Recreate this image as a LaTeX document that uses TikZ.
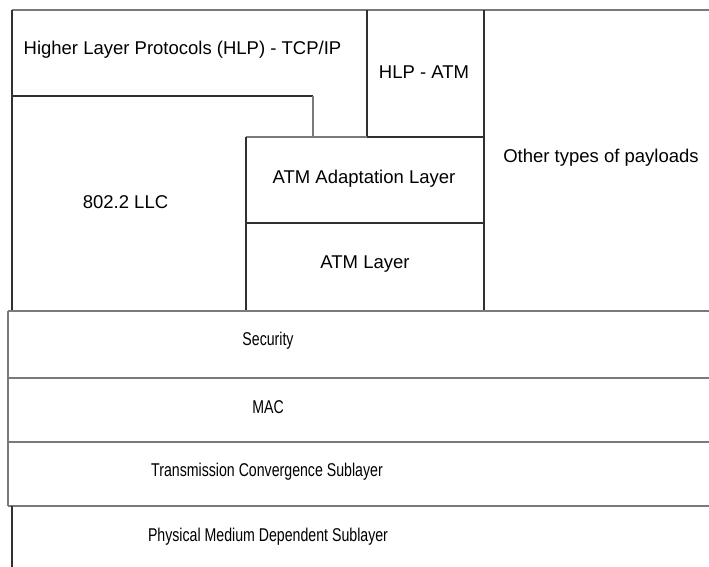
\documentclass[tikz,border=0pt]{standalone}
\usepackage{fontspec}
\setmainfont{Liberation Sans}
\usepackage{graphicx}
\definecolor{lndark}{HTML}{303030}
\definecolor{lngray}{HTML}{7A7A7A}
\begin{document}
\begin{tikzpicture}[x=1pt,y=-1pt,
  dk/.style={draw=lndark,line width=1.1pt},
  gr/.style={draw=lngray,line width=1.6pt},
  lbl/.style={inner sep=0pt,font=\fontsize{18.5}{22}\selectfont},
  nlbl/.style={inner sep=0pt,font=\fontsize{18.5}{22}\selectfont}]
\useasboundingbox (0,0) rectangle (709,566);
\begin{scope}
\clip (0,0) rectangle (709,566);
% upper part
\draw[gr] (12,10) -- (720,10);
\draw[dk] (12,10) -- (12,311);
\draw[dk] (12,96) -- (313,96);
\draw[gr] (313,96) -- (313,137);
\draw[dk] (367,10) -- (367,137);
\draw[gr] (246,137) -- (367,137);
\draw[dk] (367,137) -- (484,137);
\draw[dk] (484,10) -- (484,311);
\draw[dk] (246,137) -- (246,311);
\draw[dk] (246,223) -- (484,223);
% lower part
\draw[gr] (8,311) -- (8,506);
\draw[gr] (8,311) -- (720,311);
\draw[gr] (8,378) -- (720,378);
\draw[gr] (8,442) -- (720,442);
\draw[gr] (8,506) -- (720,506);
\draw[dk] (12,506) -- (12,570);
\end{scope}
% labels
\node[lbl] (hlptcp) at (182.5,50) {Higher Layer Protocols (HLP) - TCP/IP};
\node[lbl] (hlpatm) at (424,72) {HLP - ATM};
\node[lbl] (aal) at (364,179) {ATM Adaptation Layer};
\node[lbl] (atm) at (365,264) {ATM Layer};
\node[lbl] (other) at (601,157.5) {Other types of payloads};
\node[lbl] (llc) at (125.5,202.5) {802.2 LLC};
\node[nlbl] (sec) at (268,340.5) {\scalebox{0.765}[1]{Security}};
\node[nlbl] (mac) at (268,407) {\scalebox{0.765}[1]{MAC}};
\node[nlbl] (tcs) at (267,472) {\scalebox{0.765}[1]{Transmission Convergence Sublayer}};
\node[nlbl] (pmd) at (268,536.5) {\scalebox{0.765}[1]{Physical Medium Dependent Sublayer}};
\end{tikzpicture}
\end{document}
